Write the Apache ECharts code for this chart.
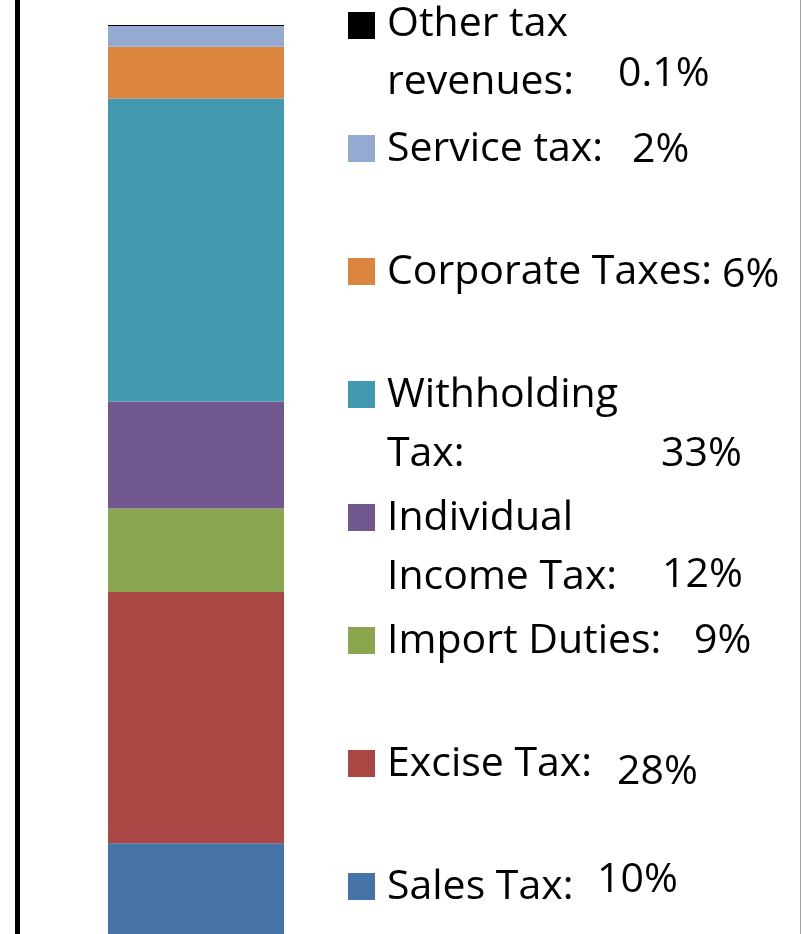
<!DOCTYPE html>
<html>
<head>
<meta charset="utf-8">
<script src="https://cdn.jsdelivr.net/npm/echarts@6/dist/echarts.min.js"></script>
<style>
  html, body { margin: 0; padding: 0; background: #fff; }
  #chart { width: 802px; height: 934px; }
</style>
</head>
<body>
<div id="chart"></div>
<script>
// ---- data (top of stack first) ----
const categories = ['Other tax revenues', 'Service tax', 'Corporate Taxes', 'Withholding Tax',
                    'Individual Income Tax', 'Import Duties', 'Excise Tax', 'Sales Tax'];
const legendLines = [['Other tax', 'revenues:'], ['Service tax:'], ['Corporate Taxes:'],
                     ['Withholding', 'Tax:'], ['Individual', 'Income Tax:'], ['Import Duties:'],
                     ['Excise Tax:'], ['Sales Tax:']];
const pctLabels = ['0.1%', '2%', '6%', '33%', '12%', '9%', '28%', '10%'];
const shares = [0.1, 2.3, 5.7, 33.4, 11.8, 9.2, 27.7, 10.0];

// ---- styles / layout ----
const colors = ['#000000', '#94AAD0', '#DB843D', '#4299B0', '#71598F', '#8AA64F', '#AA4644', '#4572A7'];
const FONT = '"Open Sans", "Noto Sans", sans-serif';
const FS = 41;
// per legend item: square top, line baselines, pct x, pct baseline
const layout = [
  { sq: 12,  lines: [37, 95],   px: 619, pb: 87 },
  { sq: 135, lines: [162],      px: 633, pb: 163 },
  { sq: 258, lines: [285],      px: 723, pb: 288 },
  { sq: 381, lines: [408, 467], px: 662, pb: 467 },
  { sq: 504, lines: [531, 590], px: 663, pb: 588 },
  { sq: 627, lines: [654],      px: 695, pb: 654 },
  { sq: 750, lines: [777],      px: 618, pb: 785 },
  { sq: 873, lines: [900],      px: 598, pb: 893 }
];

const total = shares.reduce((a, b) => a + b, 0);
const chart = echarts.init(document.getElementById('chart'), null, { renderer: 'canvas' });

const series = [];
for (let i = categories.length - 1; i >= 0; i--) {
  series.push({
    name: categories[i],
    type: 'bar',
    stack: 'total',
    data: [shares[i]],
    barWidth: '100%',
    itemStyle: { color: colors[i] },
    emphasis: { disabled: true },
    animation: false
  });
}

const BASE_OFF = 13; // baseline offset from 'middle'
const graphic = [
  { type: 'rect', left: 15, top: 0, shape: { width: 5, height: 934 }, style: { fill: '#000' } },
  { type: 'rect', left: 800, top: 0, shape: { width: 1, height: 934 }, style: { fill: '#A0A0A0' } }
];
layout.forEach((L, i) => {
  graphic.push({ type: 'rect', x: 348, y: L.sq, shape: { width: 27, height: 27 }, style: { fill: colors[i] } });
  legendLines[i].forEach((t, j) => {
    graphic.push({ type: 'text', x: 387, y: L.lines[j] - BASE_OFF,
      style: { text: t, font: FS + 'px ' + FONT, fill: '#000', verticalAlign: 'middle', align: 'left' } });
  });
  graphic.push({ type: 'text', x: L.px - 1, y: L.pb - BASE_OFF,
    style: { text: pctLabels[i], font: FS + 'px ' + FONT, fill: '#000', verticalAlign: 'middle', align: 'left' } });
});

chart.setOption({
  animation: false,
  backgroundColor: '#fff',
  grid: { left: 108, width: 176, top: 25, bottom: 0, containLabel: false },
  xAxis: { type: 'category', data: [''], show: false },
  yAxis: { type: 'value', min: 0, max: total, show: false, splitLine: { show: false } },
  series: series,
  graphic: graphic
});
</script>
</body>
</html>
